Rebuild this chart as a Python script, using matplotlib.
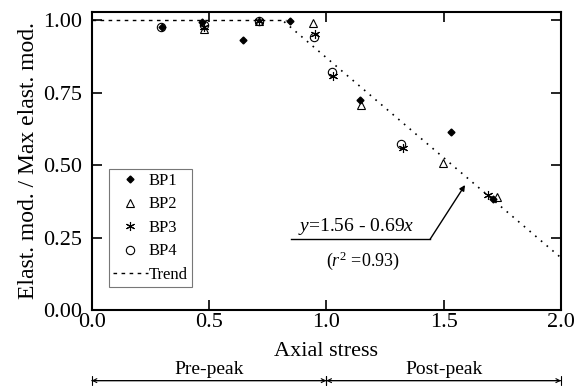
import matplotlib
matplotlib.use('Agg')
import matplotlib.pyplot as plt
import numpy as np

plt.rcParams['font.family'] = ['Liberation Serif', 'DejaVu Serif']
plt.rcParams['mathtext.fontset'] = 'custom'
plt.rcParams['mathtext.rm'] = 'Liberation Serif'
plt.rcParams['mathtext.it'] = 'Liberation Serif:italic'

# ── data ────────────────────────────────────────────────────────────────────
bp1_x = [0.30, 0.47, 0.645, 0.845, 1.145, 1.533, 1.711]
bp1_y = [0.975, 0.994, 0.932, 0.996, 0.725, 0.614, 0.383]

bp2_x = [0.477, 0.711, 0.942, 1.147, 1.495, 1.729]
bp2_y = [0.968, 0.996, 0.988, 0.706, 0.508, 0.391]

bp3_x = [0.477, 0.711, 0.953, 1.03, 1.325, 1.69]
bp3_y = [0.976, 0.998, 0.953, 0.808, 0.557, 0.397]

bp4_x = [0.297, 0.477, 0.711, 0.949, 1.023, 1.318]
bp4_y = [0.976, 0.983, 0.998, 0.942, 0.82, 0.574]

# trend: plateau at 1.0, then y = 1.56 - 0.69x
trend_a, trend_b = 1.56, 0.69
plateau_x = [0.0, 0.83]
plateau_y = [1.0, 1.0]
slope_x = [0.82, 2.0]

x_ticks = [0.0, 0.5, 1.0, 1.5, 2.0]
y_ticks = [0.00, 0.25, 0.50, 0.75, 1.00]

fig = plt.figure(figsize=(5.83, 3.90), dpi=100)
ax = fig.add_axes([0.1573, 0.2051, 0.805, 0.7641])

ax.plot(bp1_x, bp1_y, ls='none', marker='D', ms=3.5, mfc='black', mec='black', label='BP1')
ax.plot(bp2_x, bp2_y, ls='none', marker='^', ms=6, mfc='none', mec='black', mew=0.8, label='BP2')
ax.plot(bp3_x, bp3_y, ls='none', marker=(6, 2, 0), ms=6.5, mfc='none', mec='black', mew=0.8, label='BP3')
ax.plot(bp4_x, bp4_y, ls='none', marker='o', ms=6, mfc='none', mec='black', mew=0.8, label='BP4')

sx = np.array(slope_x)
ax.plot(plateau_x, plateau_y, color='black', lw=1.0, ls=(0, (2.6, 3.2)), label='Trend')
ax.plot(sx, trend_a - trend_b * sx, color='black', lw=1.2, ls=(0, (1, 3.5)))

# equation callout
ax.plot([0.849, 1.442], [0.244, 0.244], color='black', lw=1.0)
ax.annotate('', xy=(1.591, 0.431), xytext=(1.442, 0.244),
            arrowprops=dict(arrowstyle='-|>', color='black', lw=1.0,
                            mutation_scale=8, shrinkA=0, shrinkB=0))
ax.text(1.129, 0.252, r'$y$=1.56 - 0.69$x$', ha='center', va='bottom', fontsize=14)
ax.text(1.156, 0.169, r'($r^2$ =0.93)', ha='center', va='center', fontsize=13)

ax.set_xlim(0, 2.0)
ax.set_ylim(0, 1.0276)
ax.set_xticks(x_ticks)
ax.set_xticklabels(['%.1f' % v for v in x_ticks])
ax.set_yticks(y_ticks)
ax.set_yticklabels(['%.2f' % v for v in y_ticks])
ax.tick_params(direction='in', top=True, right=True, length=7, width=1.2,
               labelsize=16)
ax.tick_params(axis='x', pad=2)
ax.tick_params(axis='y', pad=7)
for s in ax.spines.values():
    s.set_linewidth(1.5)

ax.set_xlabel('Axial stress', fontsize=16)
ax.xaxis.label.set_va('center')
ax.xaxis.set_label_coords(0.5, -0.14)
ax.set_ylabel('Elast. mod. / Max elast. mod.', fontsize=17)
ax.yaxis.label.set_va('center')
ax.yaxis.set_label_coords(-0.134, 0.5)

leg = ax.legend(loc='lower left', bbox_to_anchor=(0.036, 0.077), fontsize=12,
                frameon=True, fancybox=False, edgecolor='#555555',
                handlelength=2.1, handletextpad=0.05, borderpad=0.25,
                labelspacing=0.45, borderaxespad=0)
leg.get_frame().set_linewidth(0.8)

# pre-peak / post-peak ranges under the axis
tr = ax.get_xaxis_transform()
arrow_y = -0.237
for x0, x1, lbl in [(0.0, 1.0, 'Pre-peak'), (1.0, 2.0, 'Post-peak')]:
    ax.annotate('', xy=(x1, arrow_y), xytext=(x0, arrow_y), xycoords=tr, textcoords=tr,
                arrowprops=dict(arrowstyle='<->', color='black', lw=0.8,
                                mutation_scale=7, shrinkA=0, shrinkB=0),
                annotation_clip=False)
    ax.annotate('', xy=(x1, arrow_y), xytext=(x0, arrow_y), xycoords=tr, textcoords=tr,
                arrowprops=dict(arrowstyle='|-|', color='black', lw=0.8,
                                mutation_scale=3, shrinkA=0, shrinkB=0),
                annotation_clip=False)
    ax.text((x0 + x1) / 2, -0.198, lbl, transform=tr, ha='center',
            va='center', fontsize=14)

fig.savefig('out.png', dpi=100)
